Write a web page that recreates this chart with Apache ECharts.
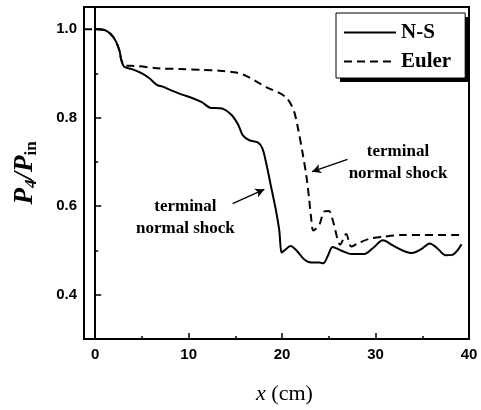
<!DOCTYPE html>
<html>
<head>
<meta charset="utf-8">
<script src="https://cdn.jsdelivr.net/npm/echarts@6/dist/echarts.min.js"></script>
<style>
  html, body { margin: 0; padding: 0; background: #fff; }
  #chart { width: 481px; height: 410px; }
</style>
</head>
<body>
<div id="chart"></div>
<script>
  // N-S solution
  let nsX = [0, 1.0, 1.7, 2.2, 2.6, 2.8, 3.1, 4.0, 5.0, 5.8, 6.6, 7.2, 8.2, 9.3, 10.3, 11.4, 12.4, 12.8, 13.7,
    14.6, 15.3, 15.8, 16.5, 17.4, 17.9, 18.3, 18.8, 19.3, 19.7, 19.95, 20.3, 20.9, 21.5, 22.4, 23.1, 24.0, 24.4,
    24.9, 25.4, 26.3, 27.4, 28.8, 29.7, 30.8, 31.8, 32.9, 33.9, 34.9, 35.8, 36.6, 37.5, 38.2, 38.8, 39.2]
  let nsY = [1.000, 0.998, 0.988, 0.973, 0.951, 0.930, 0.915, 0.909, 0.900, 0.889, 0.874, 0.870, 0.861, 0.852, 0.845,
    0.835, 0.822, 0.822, 0.820, 0.806, 0.784, 0.760, 0.749, 0.744, 0.730, 0.697, 0.646, 0.595, 0.545, 0.495, 0.501,
    0.510, 0.501, 0.479, 0.473, 0.473, 0.471, 0.488, 0.508, 0.500, 0.492, 0.492, 0.505, 0.523, 0.512, 0.500, 0.494,
    0.503, 0.516, 0.505, 0.489, 0.490, 0.501, 0.514]
  // Euler solution
  let euX = [-1.2, 0, 1.0, 1.7, 2.2, 2.6, 2.8, 3.2, 3.8, 7.0, 9.1, 11.5, 13.3, 15.1, 16.2, 17.3, 18.7, 19.7, 20.4,
    20.9, 21.3, 21.7, 22.2, 22.6, 22.9, 23.1, 23.35, 24.0, 24.5, 25.0, 25.5, 25.9, 26.2, 26.85, 27.4, 28.1, 29.3,
    30.8, 32.9, 39.2]
  let euY = [1.000, 1.000, 0.998, 0.988, 0.973, 0.951, 0.930, 0.917, 0.917, 0.911, 0.910, 0.908, 0.906, 0.902, 0.894,
    0.881, 0.865, 0.856, 0.846, 0.832, 0.813, 0.776, 0.719, 0.668, 0.615, 0.575, 0.545, 0.559, 0.588, 0.589, 0.562,
    0.528, 0.513, 0.537, 0.509, 0.516, 0.526, 0.531, 0.535, 0.535]

  let xTicks = [0, 10, 20, 30, 40]
  let xMinor = [5, 15, 25, 35]
  let yTicks = [0.4, 0.6, 0.8, 1.0]
  let yMinor = [0.5, 0.7, 0.9]

  // annotations (data units)
  let noteText = 'terminal\nnormal shock'
  let noteLeft = [9.65, 0.574]
  let noteRight = [32.4, 0.699]
  let arrowLeft = [[14.7, 0.606], [18.1, 0.638]]
  let arrowRight = [[27.0, 0.706], [23.2, 0.678]]

  const pairs = (xs, ys) => xs.map((x, i) => [x, ys[i]])
  const SANS = 'Liberation Sans'
  const SERIF = 'Liberation Serif'

  let chart = echarts.init(document.getElementById('chart'), null, {renderer: 'canvas'})

  let minorX = {
    type: 'value', min: -1.2, max: 40, position: 'bottom',
    axisLine: {show: false}, axisLabel: {show: false}, splitLine: {show: false},
    axisTick: {show: true, inside: true, length: 3, customValues: xMinor, lineStyle: {color: '#000', width: 1.5}}
  }
  let minorY = {
    type: 'value', min: 0.3, max: 1.05, position: 'left',
    axisLine: {show: false}, axisLabel: {show: false}, splitLine: {show: false},
    axisTick: {show: true, inside: true, length: 3, customValues: yMinor, lineStyle: {color: '#000', width: 1.5}}
  }

  let option = {
    animation: false,
    backgroundColor: '#fff',
    grid: {left: 84, right: 12, top: 7, bottom: 58, show: true, borderColor: '#000', borderWidth: 2},
    legend: {
      orient: 'vertical',
      left: 336, top: 13, z: 10,
      padding: [9, 14, 6, 7],
      itemWidth: 52, itemHeight: 14, itemGap: 8,
      backgroundColor: '#fff',
      borderColor: '#000', borderWidth: 1,
      itemStyle: {opacity: 0},
      textStyle: {fontFamily: SERIF, fontWeight: 'bold', fontSize: 21, color: '#000'},
      data: ['N-S', 'Euler']
    },
    // legend drop shadow
    graphic: [{
      type: 'rect', z: 5,
      shape: {x: 340, y: 17, width: 128, height: 65},
      style: {fill: '#000'}
    }],
    xAxis: [{
      type: 'value', min: -1.2, max: 40,
      name: '{i|x} (cm)', nameLocation: 'middle', nameGap: 44,
      nameTextStyle: {
        fontFamily: SERIF, fontSize: 22, color: '#000', padding: [0, 0, 0, 16],
        rich: {i: {fontFamily: SERIF, fontStyle: 'italic', fontSize: 22, color: '#000'}}
      },
      axisLine: {lineStyle: {color: '#000', width: 2}},
      axisTick: {inside: true, length: 6, customValues: xTicks, lineStyle: {color: '#000', width: 1.5}},
      axisLabel: {customValues: xTicks, margin: 8, color: '#000', fontFamily: SANS, fontWeight: 'bold', fontSize: 15},
      splitLine: {show: false}
    }, minorX],
    yAxis: [{
      type: 'value', min: 0.3, max: 1.05,
      name: '{p|P}{s|4}{p|/P}{t|in}', nameLocation: 'middle', nameGap: 44, nameRotate: 90,
      nameTextStyle: {
        color: '#000',
        rich: {
          p: {fontFamily: SERIF, fontStyle: 'italic', fontWeight: 'bold', fontSize: 27, color: '#000', lineHeight: 30},
          s: {fontFamily: SERIF, fontStyle: 'italic', fontWeight: 'bold', fontSize: 17, color: '#000', lineHeight: 14, verticalAlign: 'bottom'},
          t: {fontFamily: SERIF, fontWeight: 'bold', fontSize: 17, color: '#000', lineHeight: 14, verticalAlign: 'bottom'}
        }
      },
      axisLine: {lineStyle: {color: '#000', width: 2}},
      axisTick: {inside: true, length: 6, customValues: yTicks, lineStyle: {color: '#000', width: 1.5}},
      axisLabel: {customValues: yTicks, margin: 7, color: '#000', fontFamily: SANS, fontWeight: 'bold', fontSize: 15,
        formatter: v => v.toFixed(1)},
      splitLine: {show: false}
    }, minorY],
    series: [{
      name: 'N-S',
      type: 'line',
      data: pairs(nsX, nsY),
      showSymbol: false, symbol: 'none',
      smooth: 0.3,
      lineStyle: {color: '#000', width: 2},
      itemStyle: {color: '#000'},
      markLine: {
        silent: true,
        symbol: ['none', 'arrow'], symbolSize: [7, 9],
        label: {show: false},
        lineStyle: {color: '#000', width: 1.3, type: 'solid'},
        data: [
          [{coord: arrowLeft[0]}, {coord: arrowLeft[1]}],
          [{coord: arrowRight[0]}, {coord: arrowRight[1]}]
        ]
      }
    }, {
      name: 'Euler',
      type: 'line',
      data: pairs(euX, euY),
      showSymbol: false, symbol: 'none',
      smooth: 0.3,
      lineStyle: {color: '#000', width: 2, type: [8, 5]},
      itemStyle: {color: '#000'}
    }]
  }
  chart.setOption(option)

  // place the annotation text from data coords
  const noteEl = (pt) => {
    let p = chart.convertToPixel({gridIndex: 0}, pt)
    return {
      type: 'text', x: p[0], y: p[1],
      style: {text: noteText, fill: '#000', font: 'bold 17px "Liberation Serif"', lineHeight: 22,
        align: 'center', verticalAlign: 'middle'}
    }
  }
  chart.setOption({graphic: [option.graphic[0], noteEl(noteLeft), noteEl(noteRight)]})
</script>
</body>
</html>
